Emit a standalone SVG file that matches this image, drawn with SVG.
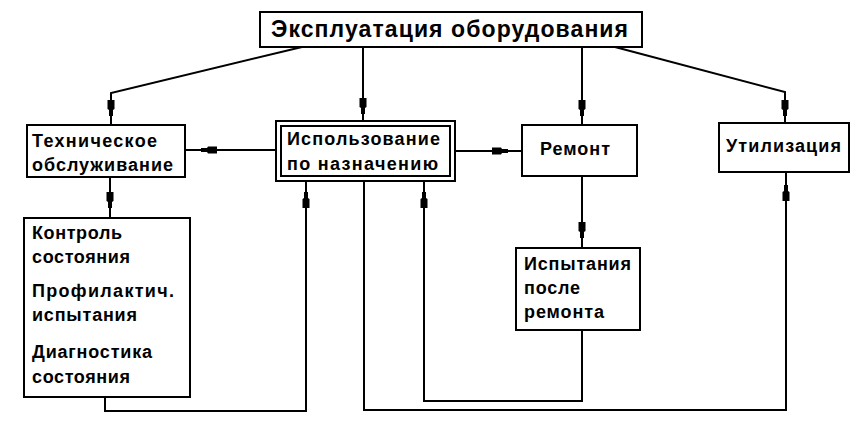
<svg xmlns="http://www.w3.org/2000/svg" width="863" height="427" viewBox="0 0 863 427">
<style>
.b{fill:#fff;stroke:#000;stroke-width:2}
.l{fill:none;stroke:#000;stroke-width:2}
text{font-family:"Liberation Sans",Arial,sans-serif;font-weight:bold;font-size:18px;fill:#000}
.t{font-size:23px}
</style>
<defs>
<path id="a" d="M-2,-8H2V-2L3.5,-1V8H-3.5V-1L-2,-2Z" fill="#000"/>
</defs>
<g id="connectors">
<polyline class="l" points="302,47 111,93 111,125"/>
<polyline class="l" points="363,47 363,121"/>
<polyline class="l" points="582,47 582,125"/>
<polyline class="l" points="615,47 785,92 785,123"/>
<polyline class="l" points="276,150 185,150"/>
<polyline class="l" points="455,151 522,151"/>
<polyline class="l" points="110,177 110,218"/>
<polyline class="l" points="582,176 582,248"/>
<polyline class="l" points="105,397 105,411 306,411 306,181"/>
<polyline class="l" points="364,181 364,410 786,410 786,172"/>
<polyline class="l" points="582,330 582,401 424,401 424,181"/>
<use href="#a" transform="translate(111,108) rotate(180)"/>
<use href="#a" transform="translate(363,106) rotate(180)"/>
<use href="#a" transform="translate(582,108) rotate(180)"/>
<use href="#a" transform="translate(785,108) rotate(180)"/>
<use href="#a" transform="translate(209,150) rotate(-90)"/>
<use href="#a" transform="translate(500,151) rotate(90)"/>
<use href="#a" transform="translate(110,200) rotate(180)"/>
<use href="#a" transform="translate(582,230) rotate(180)"/>
<use href="#a" transform="translate(306,200)"/>
<use href="#a" transform="translate(786,193)"/>
<use href="#a" transform="translate(424,200)"/>
</g>
<g id="top">
<rect class="b" x="260" y="12" width="382" height="35"/>
<text class="t" x="271" y="37" textLength="357" lengthAdjust="spacing">Эксплуатация оборудования</text>
</g>
<g id="tech">
<rect class="b" x="27" y="125" width="158" height="52"/>
<text x="32" y="147" textLength="125" lengthAdjust="spacing">Техническое</text>
<text x="32" y="171" textLength="141" lengthAdjust="spacing">обслуживание</text>
</g>
<g id="use">
<rect class="b" x="276" y="121" width="179" height="60"/>
<rect class="b" x="281" y="126" width="169" height="50"/>
<text x="287" y="145" textLength="153" lengthAdjust="spacing">Использование</text>
<text x="287" y="170" textLength="151" lengthAdjust="spacing">по назначению</text>
</g>
<g id="repair">
<rect class="b" x="522" y="125" width="115" height="51"/>
<text x="540" y="155" textLength="70" lengthAdjust="spacing">Ремонт</text>
</g>
<g id="util">
<rect class="b" x="719" y="123" width="130" height="49"/>
<text x="726" y="152" textLength="115" lengthAdjust="spacing">Утилизация</text>
</g>
<g id="control">
<rect class="b" x="24" y="218" width="166" height="179"/>
<text x="32" y="239" textLength="90" lengthAdjust="spacing">Контроль</text>
<text x="32" y="263" textLength="98" lengthAdjust="spacing">состояния</text>
<text x="32" y="297" textLength="142" lengthAdjust="spacing">Профилактич.</text>
<text x="32" y="321" textLength="105" lengthAdjust="spacing">испытания</text>
<text x="32" y="358" textLength="120" lengthAdjust="spacing">Диагностика</text>
<text x="32" y="383" textLength="98" lengthAdjust="spacing">состояния</text>
</g>
<g id="test">
<rect class="b" x="516" y="248" width="124" height="82"/>
<text x="524" y="270" textLength="107" lengthAdjust="spacing">Испытания</text>
<text x="524" y="294" textLength="56" lengthAdjust="spacing">после</text>
<text x="524" y="318" textLength="80" lengthAdjust="spacing">ремонта</text>
</g>
</svg>
